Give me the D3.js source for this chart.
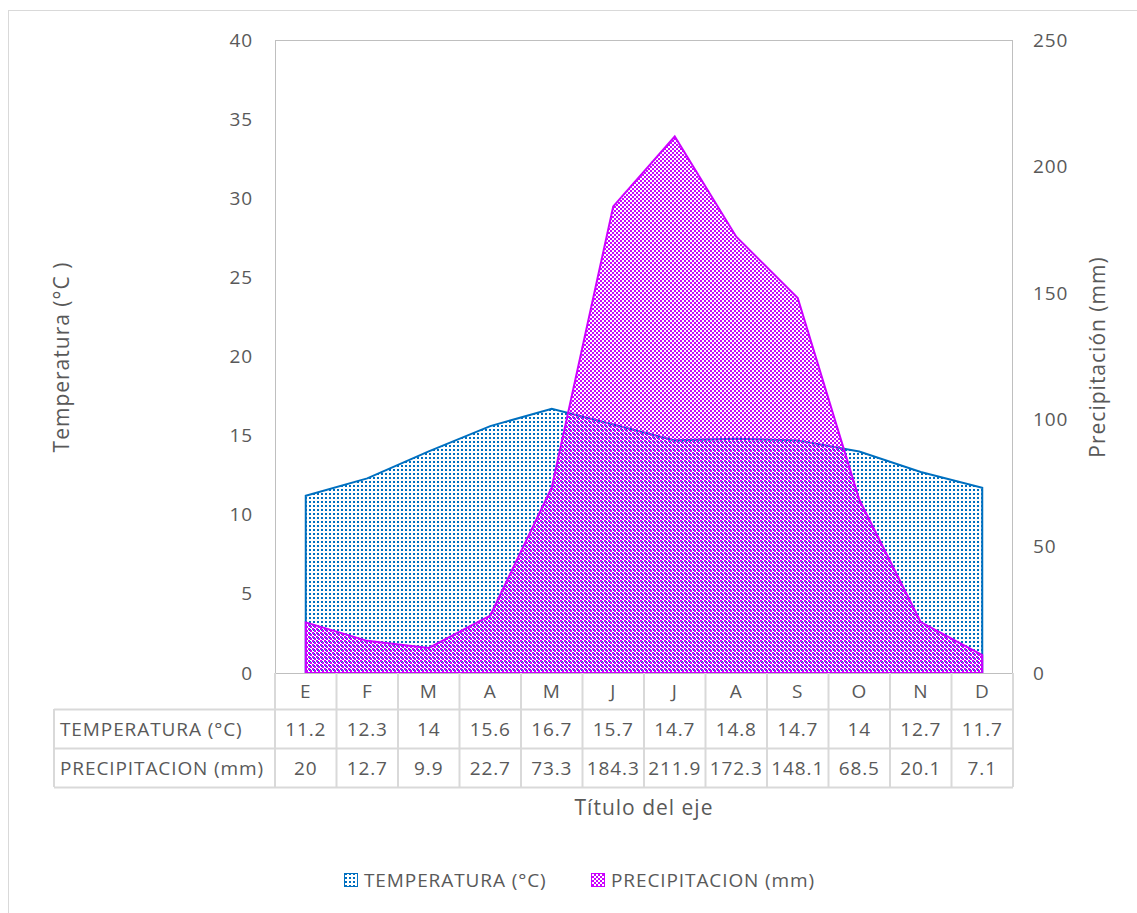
<!DOCTYPE html>
<html><head><meta charset="utf-8">
<script src="https://cdn.jsdelivr.net/npm/d3@7"></script>
<style>body{margin:0;background:#fff}svg{display:block}text{font-family:"Open Sans","Noto Sans",sans-serif;fill:#595959}</style>
</head><body>
<svg id="c" width="1137" height="913"></svg>
<script>
const months = ["E","F","M","A","M","J","J","A","S","O","N","D"];
const temperatura = [11.2,12.3,14,15.6,16.7,15.7,14.7,14.8,14.7,14,12.7,11.7];
const precipitacion = [20,12.7,9.9,22.7,73.3,184.3,211.9,172.3,148.1,68.5,20.1,7.1];
const tempTicks = [0,5,10,15,20,25,30,35,40];
const precTicks = [0,50,100,150,200,250];
const seriesNames = ["TEMPERATURA (°C)","PRECIPITACION (mm)"];

const svg = d3.select("#c");
const L=275,R=1013,T=40,B=673;
const blue="#0070C0", mag="#CC00FF", grid="#d9d9d9";
const FS="19px", LS="0.9px", TFS="21px";

const defs = svg.append("defs");
const pb = defs.append("pattern").attr("id","pb").attr("patternUnits","userSpaceOnUse").attr("width",4).attr("height",4);
pb.append("rect").attr("x",1).attr("y",1).attr("width",2).attr("height",2).attr("fill",blue);
const pm = defs.append("pattern").attr("id","pm").attr("patternUnits","userSpaceOnUse").attr("width",4).attr("height",4);
pm.append("rect").attr("x",0).attr("y",0).attr("width",2).attr("height",2).attr("fill",mag);
pm.append("rect").attr("x",2).attr("y",2).attr("width",2).attr("height",2).attr("fill",mag);

svg.append("rect").attr("x",8.5).attr("y",10.5).attr("width",1140).attr("height",920).attr("fill","none").attr("stroke",grid);

const x = d3.scaleBand().domain(d3.range(12)).range([L,R]);
const cx = i => x(i)+x.bandwidth()/2;
const yT = d3.scaleLinear().domain([0,40]).range([B,T]);
const yP = d3.scaleLinear().domain([0,250]).range([B,T]);

svg.append("rect").attr("x",L+0.5).attr("y",T+0.5).attr("width",R-L-1).attr("height",B-T).attr("fill","none").attr("stroke","#bfbfbf");

const areaT = d3.area().x((d,i)=>cx(i)).y0(yT(0)).y1(d=>yT(d));
const areaP = d3.area().x((d,i)=>cx(i)).y0(yP(0)).y1(d=>yP(d));

svg.append("path").datum(temperatura).attr("d",areaT).attr("fill","url(#pb)").attr("stroke",blue).attr("stroke-width",2);
svg.append("path").datum(precipitacion).attr("d",areaP).attr("fill","url(#pm)").attr("stroke",mag).attr("stroke-width",2);

const axL = svg.append("g").attr("transform",`translate(${L},0)`).call(d3.axisLeft(yT).tickValues(tempTicks).tickSize(0).tickPadding(22));
axL.select(".domain").remove();
axL.selectAll("text").style("font-size",FS).style("letter-spacing",LS).attr("fill","#595959");
const axR = svg.append("g").attr("transform",`translate(${R},0)`).call(d3.axisRight(yP).tickValues(precTicks).tickSize(0).tickPadding(20));
axR.select(".domain").remove();
axR.selectAll("text").style("font-size",FS).style("letter-spacing",LS).attr("fill","#595959");

const g = svg.append("g");
g.append("line").attr("x1",L).attr("x2",R).attr("y1",B+0.5).attr("y2",B+0.5).attr("stroke","#bfbfbf");
[709,748,787].forEach(y=>g.append("line").attr("x1",54).attr("x2",R).attr("y1",y+0.5).attr("y2",y+0.5).attr("stroke",grid).attr("stroke-width",2));
d3.range(13).forEach(i=>{const xx=L+i*x.bandwidth();g.append("line").attr("x1",xx).attr("x2",xx).attr("y1",B).attr("y2",787).attr("stroke",grid).attr("stroke-width",2);});
g.append("line").attr("x1",54).attr("x2",54).attr("y1",709).attr("y2",787).attr("stroke",grid).attr("stroke-width",2);

const cell = (xx,yy,t,anchor)=>g.append("text").attr("x",xx).attr("y",yy).attr("dy","0.35em").attr("text-anchor",anchor).style("font-size",FS).style("letter-spacing",LS).text(t);
months.forEach((m,i)=>cell(cx(i),691,m,"middle"));
temperatura.forEach((v,i)=>cell(cx(i),729,v,"middle"));
precipitacion.forEach((v,i)=>cell(cx(i),768,v,"middle"));
cell(60,729,seriesNames[0],"start");
cell(60,768,seriesNames[1],"start");

svg.append("text").attr("x",644).attr("y",808).attr("dy","0.35em").attr("text-anchor","middle").style("font-size",TFS).style("letter-spacing","1px").text("Título del eje");
svg.append("text").attr("transform","translate(62,357) rotate(-90)").attr("dy","0.35em").attr("text-anchor","middle").style("font-size",TFS).style("letter-spacing","1px").text("Temperatura (°C )");
svg.append("text").attr("transform","translate(1098,357) rotate(-90)").attr("dy","0.35em").attr("text-anchor","middle").style("font-size",TFS).style("letter-spacing","1px").text("Precipitación (mm)");

const lg = svg.append("g");
[[344,0,"url(#pb)",blue],[591,1,"url(#pm)",mag]].forEach(([lx,i,f,c])=>{
  lg.append("rect").attr("x",lx+0.5).attr("y",873.5).attr("width",13).attr("height",13).attr("fill",f).attr("stroke",c);
  lg.append("text").attr("x",lx+20).attr("y",880).attr("dy","0.35em").style("font-size",FS).style("letter-spacing",LS).text(seriesNames[i]);
});
</script>
</body></html>
